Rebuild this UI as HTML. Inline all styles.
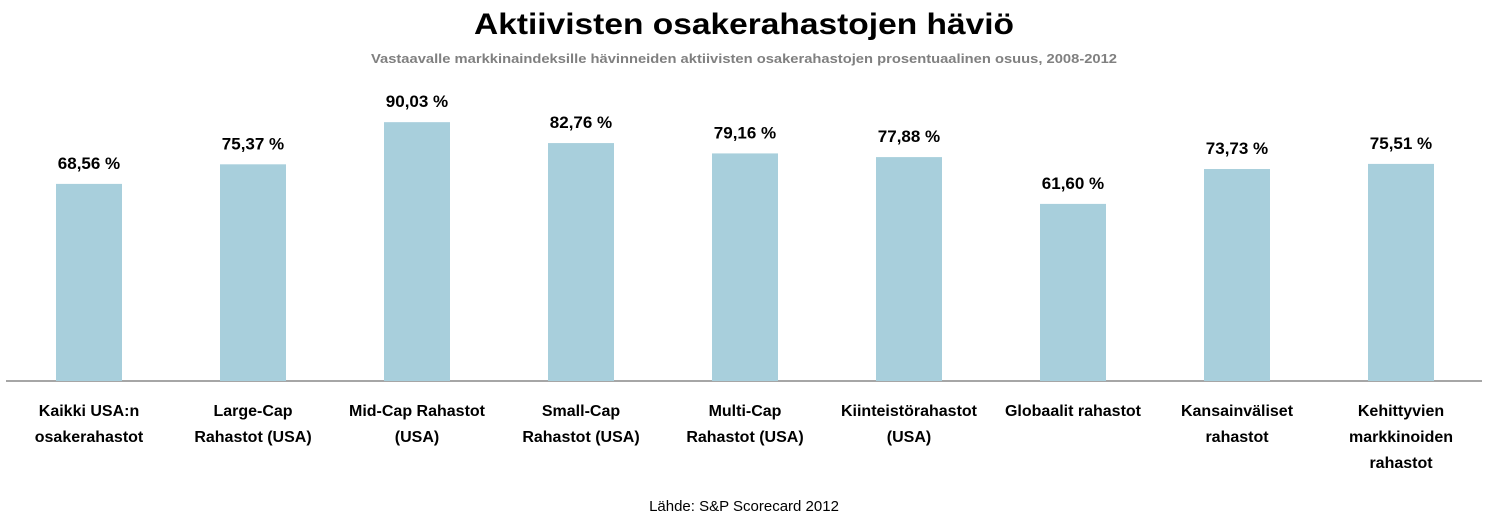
<!DOCTYPE html>
<html><head><meta charset="utf-8"><style>
body{margin:0;background:#fff;width:1488px;height:518px;overflow:hidden;font-family:"Liberation Sans",sans-serif}
</style></head><body>
<svg width="1488" height="518" id="c">
<text x="744" y="34" text-anchor="middle" font-size="30" font-weight="bold" fill="#000" textLength="540" lengthAdjust="spacingAndGlyphs">Aktiivisten osakerahastojen häviö</text>
<text x="744" y="63" text-anchor="middle" font-size="13" font-weight="bold" fill="#808080" textLength="746" lengthAdjust="spacingAndGlyphs">Vastaavalle markkinaindeksille hävinneiden aktiivisten osakerahastojen prosentuaalinen osuus, 2008-2012</text>
<line x1="6" y1="381" x2="1482" y2="381" stroke="#888" stroke-width="1.5"/>
<g id="bars"></g>
<text x="744" y="511" text-anchor="middle" font-size="15" fill="#000">Lähde: S&amp;P Scorecard 2012</text>
</svg>
<script>
const categories=[["Kaikki USA:n","osakerahastot"],["Large-Cap","Rahastot (USA)"],["Mid-Cap Rahastot","(USA)"],["Small-Cap","Rahastot (USA)"],["Multi-Cap","Rahastot (USA)"],["Kiinteistörahastot","(USA)"],["Globaalit rahastot"],["Kansainväliset","rahastot"],["Kehittyvien","markkinoiden","rahastot"]];
const values=[68.56,75.37,90.03,82.76,79.16,77.88,61.60,73.73,75.51];
const valueLabels=["68,56 %","75,37 %","90,03 %","82,76 %","79,16 %","77,88 %","61,60 %","73,73 %","75,51 %"];
const NS="http://www.w3.org/2000/svg";
const x0=7,step=164,bw=66,base=381,k=2.875;
const xc=i=>x0+step*(i+0.5);
const y=v=>base-v*k;
const g=document.getElementById("bars");
values.forEach((v,i)=>{
 const r=document.createElementNS(NS,"rect");
 r.setAttribute("x",xc(i)-bw/2);r.setAttribute("y",y(v));r.setAttribute("width",bw);r.setAttribute("height",base-y(v));r.setAttribute("fill","#a8cfdc");
 
 
 g.appendChild(r);
 const t=document.createElementNS(NS,"text");
 t.setAttribute("x",xc(i));t.setAttribute("y",y(v)-15);t.setAttribute("text-anchor","middle");t.setAttribute("font-size","17");t.setAttribute("font-weight","bold");
 t.textContent=valueLabels[i];
 
 
 g.appendChild(t);
 categories[i].forEach((ln,j)=>{
  const c=document.createElementNS(NS,"text");
  c.setAttribute("x",xc(i));c.setAttribute("y",416+j*26);c.setAttribute("text-anchor","middle");c.setAttribute("font-size","16");c.setAttribute("font-weight","bold");
  c.textContent=ln;
  
  
  g.appendChild(c);
 });
});
</script>
</body></html>
